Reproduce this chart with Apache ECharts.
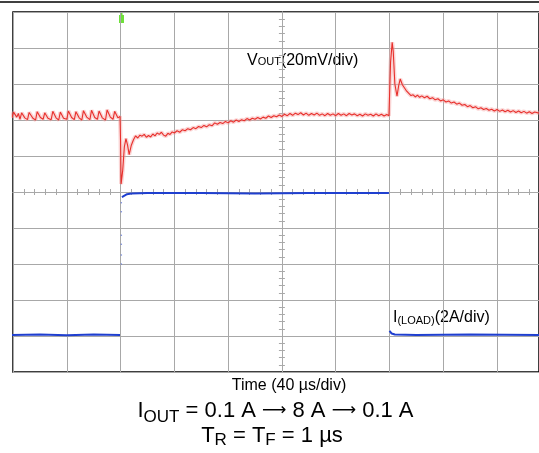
<!DOCTYPE html>
<html>
<head>
<meta charset="utf-8">
<script src="https://cdn.jsdelivr.net/npm/echarts@6/dist/echarts.min.js"></script>
<style>
html, body {margin: 0; padding: 0; background: #fff;}
#main {width: 539px; height: 453px;}
</style>
</head>
<body>
<div id="main"></div>
<script>
// time in divisions from screen centre (40 us/div), values in divisions from centre
const vTime = [
    -5.02, -4.99, -4.93, -4.90, -4.87, -4.84, -4.78, -4.73, -4.70, -4.63, -4.58, -4.55, -4.49, -4.44, -4.41,
    -4.35, -4.29, -4.26, -4.20, -4.15, -4.12, -4.06, -4.00, -3.97, -3.91, -3.86, -3.83, -3.77, -3.72, -3.69,
    -3.63, -3.57, -3.54, -3.48, -3.43, -3.40, -3.34, -3.28, -3.25, -3.19, -3.14, -3.11, -3.05, -3.01,
    -3.00, -2.99, -2.96, -2.93, -2.90, -2.87, -2.84, -2.80, -2.76, -2.72,
    -2.68, -2.64, -2.60, -2.56, -2.52, -2.48, -2.44, -2.40, -2.36, -2.32, -2.28, -2.24, -2.20, -2.16, -2.12,
    -2.08, -2.04, -2.00, -1.95, -1.90, -1.85, -1.80, -1.75, -1.70, -1.65, -1.60, -1.55, -1.50, -1.45, -1.40,
    -1.35, -1.30, -1.25, -1.20, -1.15, -1.10, -1.05, -1.00, -0.95, -0.90, -0.85, -0.80, -0.75, -0.70, -0.65,
    -0.60, -0.55, -0.50, -0.45, -0.40, -0.35, -0.30, -0.25, -0.20, -0.15, -0.10, -0.05, 0.00, 0.05, 0.10,
    0.15, 0.20, 0.25, 0.30, 0.35, 0.40, 0.45, 0.50, 0.55, 0.60, 0.65, 0.70, 0.75, 0.80, 0.85,
    0.90, 0.95, 1.00, 1.05, 1.10, 1.15, 1.20, 1.25, 1.30, 1.35, 1.40, 1.45, 1.50, 1.55, 1.60,
    1.65, 1.70, 1.75, 1.80, 1.85, 1.90, 1.95, 1.99,
    2.02, 2.05, 2.07, 2.10, 2.14, 2.17, 2.20, 2.24, 2.28, 2.32, 2.36, 2.40, 2.44, 2.48, 2.52,
    2.56, 2.60, 2.65, 2.70, 2.75, 2.80, 2.85, 2.90, 2.95, 3.00, 3.05, 3.10, 3.15, 3.20, 3.25,
    3.30, 3.35, 3.40, 3.45, 3.50, 3.55, 3.60, 3.65, 3.70, 3.75, 3.80, 3.85, 3.90, 3.95, 4.00,
    4.05, 4.10, 4.15, 4.20, 4.25, 4.30, 4.35, 4.40, 4.45, 4.50, 4.55, 4.60, 4.65, 4.70, 4.78
];
const vOut = [
    2.06, 2.22, 2.08, 2.18, 2.02, 2.20, 2.06, 2.01, 2.21, 2.05, 2.00, 2.23, 2.07, 2.02, 2.20,
    2.05, 2.01, 2.24, 2.06, 2.00, 2.22, 2.05, 2.02, 2.25, 2.07, 2.01, 2.23, 2.06, 2.00, 2.26,
    2.08, 2.01, 2.27, 2.07, 2.02, 2.25, 2.06, 2.00, 2.28, 2.08, 2.02, 2.24, 2.06, 2.10,
    1.40, 0.22, 0.60, 1.25, 1.48, 1.30, 1.04, 1.30, 1.45, 1.56,
    1.50, 1.58, 1.55, 1.60, 1.52, 1.57, 1.53, 1.61, 1.56, 1.64, 1.60, 1.66, 1.58, 1.55, 1.63,
    1.60, 1.67, 1.64, 1.70, 1.66, 1.73, 1.70, 1.76, 1.73, 1.79, 1.76, 1.82, 1.79, 1.85, 1.81,
    1.87, 1.84, 1.92, 1.88, 1.93, 1.90, 1.96, 1.92, 1.98, 1.94, 2.00, 1.96, 2.01, 1.98, 2.04,
    2.00, 2.05, 2.02, 2.07, 2.03, 2.08, 2.05, 2.11, 2.07, 2.12, 2.09, 2.14, 2.10, 2.16, 2.12,
    2.18, 2.13, 2.19, 2.15, 2.20, 2.14, 2.19, 2.13, 2.18, 2.14, 2.19, 2.13, 2.17, 2.12, 2.18,
    2.13, 2.17, 2.12, 2.18, 2.13, 2.17, 2.12, 2.18, 2.14, 2.17, 2.12, 2.16, 2.11, 2.17, 2.13,
    2.16, 2.11, 2.17, 2.12, 2.16, 2.11, 2.15, 2.12,
    3.60, 4.16, 3.90, 3.00, 2.66, 2.95, 3.14, 2.98, 2.89, 2.80, 2.74, 2.68, 2.70, 2.64, 2.69,
    2.63, 2.67, 2.62, 2.66, 2.59, 2.62, 2.56, 2.59, 2.53, 2.56, 2.50, 2.53, 2.47, 2.50, 2.44,
    2.47, 2.41, 2.43, 2.37, 2.40, 2.34, 2.37, 2.31, 2.34, 2.29, 2.32, 2.27, 2.30, 2.25, 2.29,
    2.24, 2.28, 2.23, 2.27, 2.22, 2.26, 2.21, 2.25, 2.20, 2.24, 2.19, 2.23, 2.18, 2.22, 2.19
];
// load current trace, null = gap at the fast edges
const iTime = [-5.02, -4.5, -4.0, -3.5, -3.01, -3.0, -2.975, -2.94, -2.88, -2.80, -2.5, -1.5, -0.5, 0.5, 1.5, 1.99, 2.0, 2.0, 2.04, 2.10, 2.5, 3.5, 4.78];
const iLoad = [-3.97, -3.96, -3.98, -3.96, -3.97, null, -0.14, -0.09, -0.06, -0.04, -0.03, -0.03, -0.04, -0.03, -0.03, -0.03, null, -3.86, -3.93, -3.96, -3.97, -3.96, -3.97];
// faint dots on the rising edge
const edgeTime = [-2.985, -2.985, -2.985, -2.985, -2.985, -2.985];
const edgeLoad = [-0.3, -0.55, -1.2, -1.45, -1.75, -2.0];

const FONT = '"Liberation Sans", Arial, sans-serif';
const ARROW = '"DejaVu Sans", sans-serif';
const GRID = '#a8a8a8';

function pairs(xs, ys){
    let out = [];
    for (let i = 0; i < xs.length; i++){
        out.push([xs[i], ys[i] === null ? '-' : ys[i]]);
    }
    return out;
}

function centreAxis(dim, index, pos){
    return {
        type: 'value',
        position: pos,
        min: -5,
        max: dim === 'x' ? 4.78 : 5,
        interval: 1,
        axisLine: {show: true, onZero: true, lineStyle: {color: GRID, width: 1}},
        axisTick: {show: true, inside: true, length: 3, lineStyle: {color: GRID}},
        minorTick: {show: true, splitNumber: 5, length: 3, lineStyle: {color: GRID}},
        axisLabel: {show: false},
        splitLine: {show: index === 0, lineStyle: {color: GRID, width: 1}}
    };
}

// one line of text made of runs: [text, fontSize, baseline shift, family]
let measurer = document.createElement('canvas').getContext('2d');
function textRun(x, baseline, runs, align){
    let widths = runs.map(r => {
        measurer.font = r[1] + 'px ' + (r[3] || FONT);
        return measurer.measureText(r[0]).width;
    });
    let total = widths.reduce((a, b) => a + b, 0);
    let cx = align === 'center' ? x - total / 2 : x;
    let els = [];
    runs.forEach((r, i) => {
        els.push({
            type: 'text',
            x: cx,
            y: baseline + r[2] - r[1] * 0.34,
            style: {
                text: r[0],
                font: r[1] + 'px ' + (r[3] || FONT),
                fill: '#000',
                align: 'left',
                textAlign: 'left',
                verticalAlign: 'middle',
                textVerticalAlign: 'middle'
            }
        });
        cx += widths[i];
    });
    return els;
}

let chart = echarts.init(document.getElementById('main'), null, {renderer: 'canvas'});
chart.setOption({
    animation: false,
    grid: {left: 13, right: -2, top: 12, bottom: 81, show: true, borderColor: '#000', borderWidth: 1.5},
    xAxis: [centreAxis('x', 0, 'bottom'), centreAxis('x', 1, 'top')],
    yAxis: [centreAxis('y', 0, 'left'), centreAxis('y', 1, 'right')],
    series: [
        {
            type: 'line',
            data: pairs(vTime, vOut),
            showSymbol: false,
            lineStyle: {color: '#f3a0a0', width: 4, opacity: 0.45},
            z: 2
        },
        {
            type: 'line',
            data: pairs(vTime, vOut),
            showSymbol: false,
            lineStyle: {color: '#e8302c', width: 1.1},
            z: 3
        },
        {
            type: 'line',
            data: pairs(iTime, iLoad),
            showSymbol: false,
            connectNulls: false,
            lineStyle: {color: '#1f3fcf', width: 2},
            z: 4
        },
        {
            type: 'scatter',
            data: pairs(edgeTime, edgeLoad),
            symbolSize: 1.5,
            itemStyle: {color: '#5a70d8'},
            z: 4
        }
    ],
    graphic: [
        {type: 'line', shape: {x1: 0, y1: 2, x2: 539, y2: 2}, style: {stroke: '#000', lineWidth: 1.5}},
        {type: 'rect', shape: {x: 119, y: 15, width: 5, height: 8}, style: {fill: '#6ee03a'}},
        {type: 'line', shape: {x1: 121.5, y1: 12, x2: 121.5, y2: 15}, style: {stroke: '#6ee03a', lineWidth: 2}}
    ].concat(
        textRun(247, 66, [['V', 16, 0], ['OUT', 11, 0], ['(20mV/div)', 16, 0]], 'left'),
        textRun(393, 323.3, [['I', 16, 0], ['(LOAD)', 11, 1.5], ['(2A/div)', 16, 0]], 'left'),
        textRun(289, 390.7, [['Time (40 µs/div)', 16, 0]], 'center'),
        textRun(275.5, 418.3, [['I', 22, 0], ['OUT', 17, 4.5], [' = 0.1 A ', 22, 0], ['⟶', 17, -1.5, ARROW],
            [' 8 A ', 22, 0], ['⟶', 17, -1.5, ARROW], [' 0.1 A', 22, 0]], 'center'),
        textRun(272, 443.3, [['T', 22, 0], ['R', 17, 3], [' = T', 22, 0], ['F', 17, 3], [' = 1 µs', 22, 0]], 'center')
    )
});
</script>
</body>
</html>
